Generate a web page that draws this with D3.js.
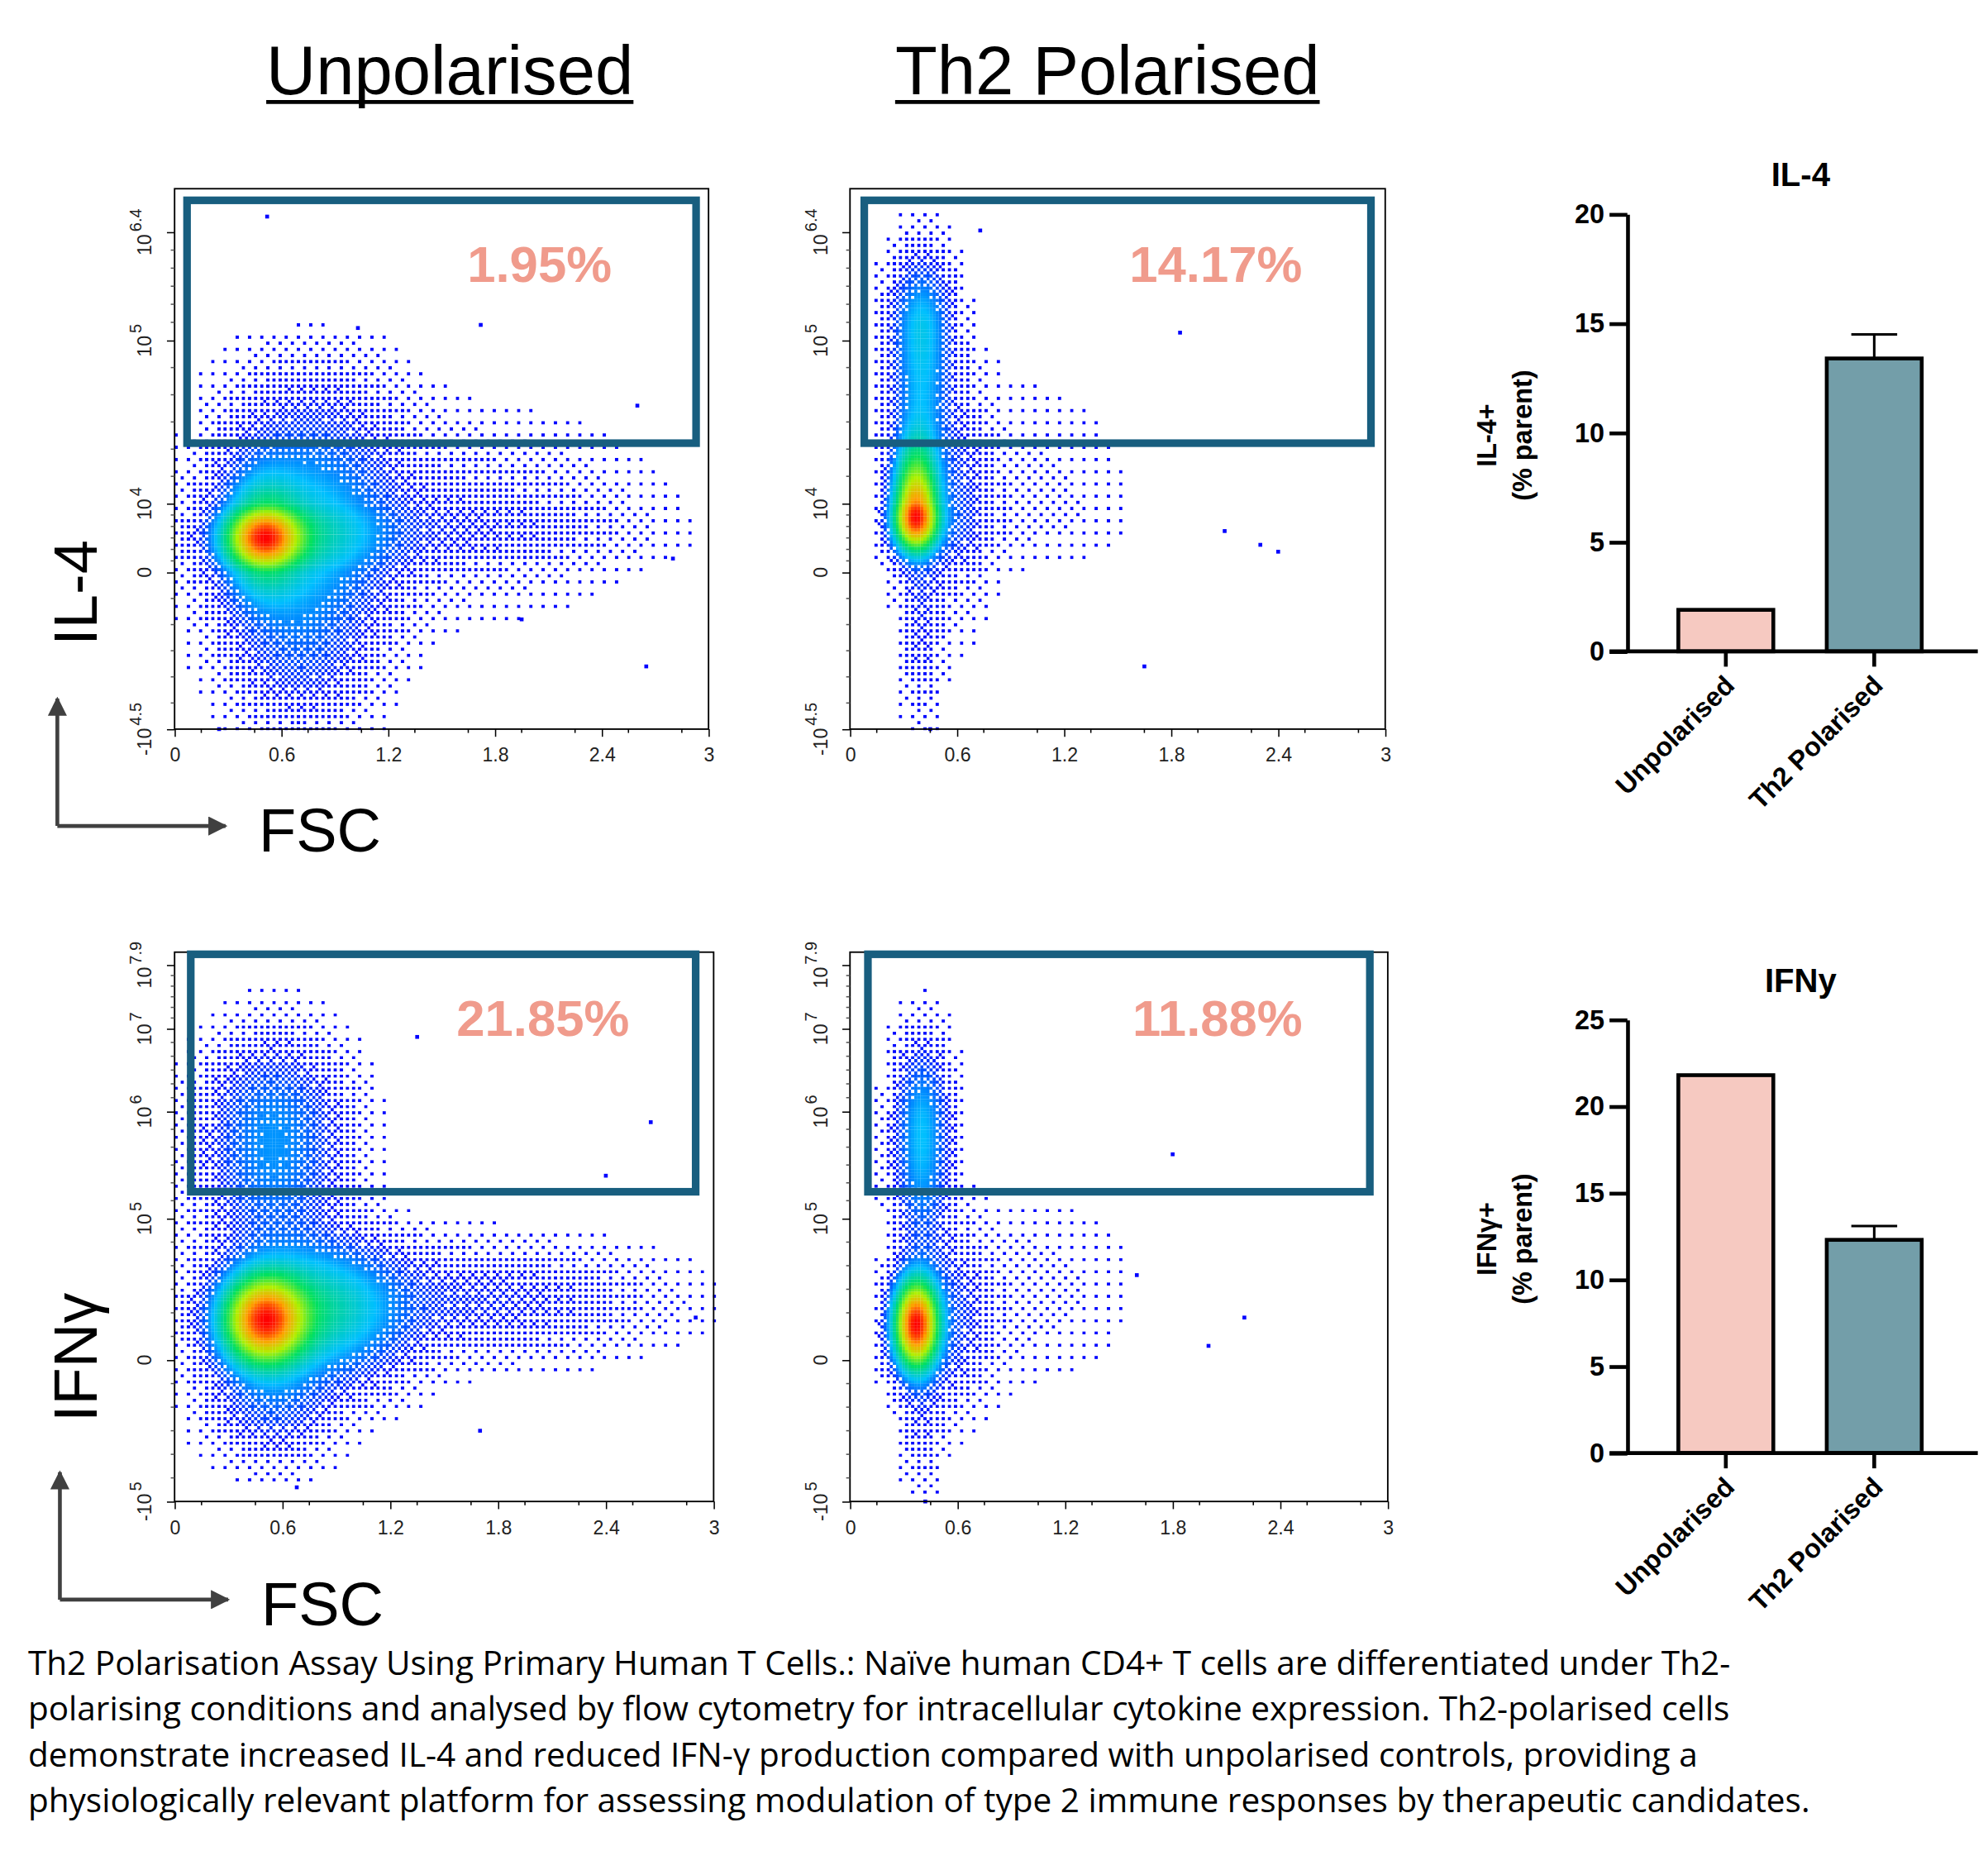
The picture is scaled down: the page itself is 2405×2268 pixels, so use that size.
<!DOCTYPE html>
<html><head><meta charset="utf-8">
<script src="https://cdn.jsdelivr.net/npm/d3@7"></script>
<style>body{margin:0;background:#fff}svg{display:block}</style>
</head><body>
<script>
// ---------- DATA ----------
const columnTitles = ["Unpolarised", "Th2 Polarised"];
const rowMarkers = ["IL-4", "IFNγ"];
const fscTicks = [0, 0.6, 1.2, 1.8, 2.4, 3];
// y axis units: -1 = negative decade, 0 = zero, k = k-th labelled decade
const il4TickUnits = [-1, 0, 1, 2, 3.4];
const il4TickLabels = [["-10","4.5"], ["0",""], ["10","4"], ["10","5"], ["10","6.4"]];
const ifnTickUnits = [-1, 0, 1, 2, 3, 3.9];
const ifnTickLabels = [["-10","5"], ["0",""], ["10","5"], ["10","6"], ["10","7"], ["10","7.9"]];
const gatePercents = ["1.95%", "14.17%", "21.85%", "11.88%"];
// gates: [fscMin, fscMax, unitMin, unitMax]
const gates = [[0.07, 2.93, 1.37, 3.81], [0.08, 2.92, 1.37, 3.81], [0.09, 2.9, 1.25, 4.05], [0.1, 2.9, 1.25, 4.05]];
// density components per plot: [fscCenter, unitCenter, fscSpread, unitSpread, weight]
const populations = [
  [[0.5,0.5,0.13,0.3,1],[0.75,0.55,0.28,0.5,0.25],[1.6,0.65,0.55,0.4,0.035],[0.7,-0.45,0.22,0.32,0.05],[0.8,1.5,0.3,0.3,0.012]],
  [[0.37,0.8,0.075,0.3,1],[0.4,2.1,0.1,0.55,0.16],[0.55,0.8,0.14,0.5,0.06],[0.4,-0.3,0.07,0.35,0.03],[1.0,0.9,0.35,0.5,0.006]],
  [[0.5,0.28,0.14,0.19,1],[0.8,0.35,0.28,0.28,0.25],[1.7,0.42,0.55,0.22,0.04],[0.55,1.7,0.22,0.65,0.12],[0.55,-0.25,0.2,0.25,0.07]],
  [[0.37,0.25,0.075,0.19,1],[0.4,1.75,0.09,0.6,0.14],[0.55,0.3,0.14,0.35,0.05],[0.4,-0.4,0.07,0.28,0.025],[1.0,0.5,0.35,0.4,0.006]]
];
// isolated events [fsc, unit]
const outliers = [
  [[0.52,3.6],[2.6,1.6],[1.03,2.16],[1.72,2.2],[2.8,0.2],[2.65,-0.6],[1.95,-0.3],[0.25,-1.0]],
  [[0.73,3.42],[1.85,2.1],[2.4,0.3],[2.1,0.6],[1.65,-0.6],[0.45,-1.0],[2.3,0.4]],
  [[1.35,2.9],[2.4,1.4],[2.65,1.9],[0.68,-0.9],[1.7,-0.5],[2.9,0.3]],
  [[1.8,1.6],[2.0,0.1],[1.6,0.6],[0.42,-1.0],[2.2,0.3]]
];
const barCategories = ["Unpolarised", "Th2 Polarised"];
const il4Values = [1.9, 13.4];
const il4Errors = [0, 1.1];
const ifnValues = [21.8, 12.3];
const ifnErrors = [0, 0.8];
const il4BarTicks = [0, 5, 10, 15, 20];
const ifnBarTicks = [0, 5, 10, 15, 20, 25];
const caption = [
 "Th2 Polarisation Assay Using Primary Human T Cells.: Naïve human CD4+ T cells are differentiated under Th2-",
 "polarising conditions and analysed by flow cytometry for intracellular cytokine expression. Th2-polarised cells",
 "demonstrate increased IL-4 and reduced IFN-γ production compared with unpolarised controls, providing a",
 "physiologically relevant platform for assessing modulation of type 2 immune responses by therapeutic candidates."
];

// ---------- LAYOUT ----------
const W = 1560, H = 1471;
const svg = d3.select("body").append("svg").attr("width", 2405).attr("height", 2268)
  .attr("viewBox", `0 0 ${W} ${H}`);
const jet = d3.scaleLinear().domain([0, 0.12, 0.3, 0.5, 0.68, 0.85, 1])
  .range(["#0000ff", "#0010ff", "#00c0ff", "#00e060", "#b0f000", "#ffa000", "#ff0000"]).clamp(true);
const bayer = [[0,8,2,10],[12,4,14,6],[3,11,1,9],[15,7,13,5]];

const panels = [
  {x0:137,x1:556,frameTop:148,units:il4TickUnits,labels:il4TickLabels,pos:[572,449,395,267,182]},
  {x0:667,x1:1087,frameTop:148,units:il4TickUnits,labels:il4TickLabels,pos:[572,449,395,267,182]},
  {x0:137,x1:560,frameTop:747,units:ifnTickUnits,labels:ifnTickLabels,pos:[1178,1067,956,872,807,757]},
  {x0:667,x1:1089,frameTop:747,units:ifnTickUnits,labels:ifnTickLabels,pos:[1178,1067,956,872,807,757]}
];

panels.forEach((p, i) => {
  const x = d3.scaleLinear().domain([0, 3]).range([p.x0, p.x1]);
  const y = d3.scaleLinear().domain(p.units).range(p.pos);
  const yBottom = p.pos[0], yTop = p.frameTop;
  const g = svg.append("g");
  const cw = 2.4, nx = Math.ceil((p.x1 - p.x0) / cw), ny = Math.ceil((yBottom - yTop) / cw);
  const comps = populations[i];
  const dens = [];
  let dmax = 0;
  for (let j = 0; j < ny; j++) for (let k = 0; k < nx; k++) {
    const fx = x.invert(p.x0 + (k + 0.5) * cw), uy = y.invert(yTop + (j + 0.5) * cw);
    let d = 0;
    comps.forEach(c => { const a = (fx - c[0]) / c[2], b = (uy - c[1]) / c[3]; d += c[4] * Math.exp(-0.5 * (a*a + b*b)); });
    dens.push(d); if (d > dmax) dmax = d;
  }
  const canvas = document.createElement("canvas");
  const sc = 3;
  canvas.width = Math.round(nx * cw * sc); canvas.height = Math.round(ny * cw * sc);
  const ctx = canvas.getContext("2d");
  const full = 0.1, thr = 0.0015;
  for (let j = 0; j < ny; j++) for (let k = 0; k < nx; k++) {
    const r = dens[j * nx + k] / dmax;
    if (r < thr) continue;
    if (r < full) {
      const keep = Math.pow((r - thr) / (full - thr), 0.7) * 16 * 0.8;
      if (bayer[j % 4][k % 4] >= keep) continue;
    }
    const t = Math.pow(r, 0.6);
    ctx.fillStyle = jet(t);
    ctx.fillRect(k * cw * sc, j * cw * sc, cw * sc, cw * sc);
  }
  g.append("image").attr("href", canvas.toDataURL()).attr("x", p.x0).attr("y", yTop)
    .attr("width", nx * cw).attr("height", ny * cw).attr("preserveAspectRatio", "none");
  g.append("g").selectAll("rect").data(outliers[i]).join("rect")
    .attr("x", d => x(d[0]) - 1.5).attr("y", d => y(d[1]) - 1.5).attr("width", 3).attr("height", 3).attr("fill", "#0000ff");
  g.append("rect").attr("x", p.x0).attr("y", yTop).attr("width", p.x1 - p.x0).attr("height", yBottom - yTop)
    .attr("fill", "none").attr("stroke", "#000").attr("stroke-width", 1.2);
  const xa = g.append("g").attr("transform", `translate(0,${yBottom})`)
    .call(d3.axisBottom(x).tickValues(fscTicks).tickFormat(d => d).tickSize(6).tickSizeOuter(0));
  xa.select(".domain").remove();
  xa.selectAll("text").attr("font-family", "Arial, Liberation Sans").attr("font-size", 15).attr("fill", "#222").attr("dy", "1.1em");
  g.append("g").selectAll("line").data(d3.range(0.15, 3, 0.3)).join("line")
    .attr("x1", d => x(d)).attr("x2", d => x(d)).attr("y1", yBottom).attr("y2", yBottom + 3).attr("stroke", "#000");
  const ya = g.append("g").attr("transform", `translate(${p.x0},0)`)
    .call(d3.axisLeft(y).tickValues(p.units).tickFormat("").tickSize(6).tickSizeOuter(0));
  ya.select(".domain").remove();
  p.units.forEach((u, k) => {
    const lab = p.labels[k];
    const t = g.append("text").attr("transform", `translate(${p.x0 - 18},${y(u)}) rotate(-90)`)
      .attr("text-anchor", "middle").attr("font-family", "Arial, Liberation Sans").attr("font-size", 15).attr("fill", "#222");
    t.append("tspan").text(lab[0]);
    if (lab[1]) t.append("tspan").attr("dy", -8).attr("dx", 2).attr("font-size", 13).text(lab[1]);
  });
  const minor = [];
  for (let k = 0; k < p.units.length - 1; k++) for (let m = 1; m < 6; m++) minor.push(p.units[k] + (p.units[k+1]-p.units[k]) * m / 6);
  g.append("g").selectAll("line").data(minor).join("line")
    .attr("x1", p.x0 - 3).attr("x2", p.x0).attr("y1", d => y(d)).attr("y2", d => y(d)).attr("stroke", "#555");
  const gt = gates[i];
  g.append("rect").attr("x", x(gt[0])).attr("y", y(gt[3])).attr("width", x(gt[1]) - x(gt[0]))
    .attr("height", y(gt[2]) - y(gt[3])).attr("fill", "none").attr("stroke", "#185e7f").attr("stroke-width", 6);
  g.append("text").attr("x", x(2.05)).attr("y", y(gt[3]) + 64).attr("text-anchor", "middle")
    .attr("font-family", "Arial, Liberation Sans").attr("font-weight", "bold").attr("font-size", 40)
    .attr("fill", "#f09b8c").text(gatePercents[i]);
});

[353, 869].forEach((cx, i) => {
  const t = svg.append("text").attr("x", cx).attr("y", 74).attr("text-anchor", "middle")
    .attr("font-family", "Arial, Liberation Sans").attr("font-size", 54).attr("fill", "#000").text(columnTitles[i]);
  const bb = t.node().getBBox();
  svg.append("line").attr("x1", bb.x).attr("x2", bb.x + bb.width).attr("y1", 80).attr("y2", 80)
    .attr("stroke", "#000").attr("stroke-width", 3);
});

svg.append("defs").append("marker").attr("id", "ah").attr("viewBox", "0 0 10 10").attr("refX", 9).attr("refY", 5)
  .attr("markerWidth", 5).attr("markerHeight", 5).attr("orient", "auto")
  .append("path").attr("d", "M0,0L10,5L0,10Z").attr("fill", "#404040");
[[465, 648, 45, 668], [1065, 1255, 47, 1275]].forEach((r, i) => {
  svg.append("text").attr("transform", `translate(76,${r[0]}) rotate(-90)`).attr("text-anchor", "middle")
    .attr("font-family", "Arial, Liberation Sans").attr("font-size", 48).text(rowMarkers[i]);
  svg.append("line").attr("x1", r[2]).attr("y1", r[1]).attr("x2", r[2]).attr("y2", r[1] - 100)
    .attr("stroke", "#404040").attr("stroke-width", 3).attr("marker-end", "url(#ah)");
  svg.append("line").attr("x1", r[2]).attr("y1", r[1]).attr("x2", r[2] + 132).attr("y2", r[1])
    .attr("stroke", "#404040").attr("stroke-width", 3).attr("marker-end", "url(#ah)");
  svg.append("text").attr("x", r[2] + 158).attr("y", r[3]).attr("font-family", "Arial, Liberation Sans")
    .attr("font-size", 48).text("FSC");
});

function barChart(cfg) {
  const y = d3.scaleLinear().domain([0, cfg.max]).range([cfg.y0, cfg.y1]);
  const x = d3.scaleBand().domain(barCategories).range([1317, 1508]).paddingInner(0.36).paddingOuter(0);
  const g = svg.append("g");
  const font = "Arial, Liberation Sans";
  g.append("text").attr("x", 1413).attr("y", cfg.y1 - 22).attr("text-anchor", "middle")
    .attr("font-family", font).attr("font-weight", "bold").attr("font-size", 26).text(cfg.title);
  g.selectAll(".bar").data(cfg.values).join("rect")
    .attr("x", (d, i) => x(barCategories[i])).attr("y", d => y(d))
    .attr("width", x.bandwidth()).attr("height", d => y(0) - y(d))
    .attr("fill", (d, i) => ["#f6c9c1", "#739ea9"][i]).attr("stroke", "#000").attr("stroke-width", 3);
  cfg.values.forEach((v, i) => {
    if (!cfg.errors[i]) return;
    const cx = x(barCategories[i]) + x.bandwidth() / 2;
    g.append("line").attr("x1", cx).attr("x2", cx).attr("y1", y(v)).attr("y2", y(v + cfg.errors[i])).attr("stroke", "#000").attr("stroke-width", 2);
    g.append("line").attr("x1", cx - 18).attr("x2", cx + 18).attr("y1", y(v + cfg.errors[i])).attr("y2", y(v + cfg.errors[i])).attr("stroke", "#000").attr("stroke-width", 2);
  });
  const ya = g.append("g").attr("transform", "translate(1277,0)")
    .call(d3.axisLeft(y).tickValues(cfg.ticks).tickSize(14).tickSizeOuter(0).tickPadding(4));
  ya.select(".domain").attr("stroke-width", 3);
  ya.selectAll(".tick line").attr("stroke-width", 3);
  ya.selectAll("text").attr("font-family", font).attr("font-weight", "bold").attr("font-size", 21).attr("fill", "#000");
  g.append("line").attr("x1", 1263).attr("x2", 1552).attr("y1", y(0)).attr("y2", y(0)).attr("stroke", "#000").attr("stroke-width", 3);
  barCategories.forEach(c => {
    const cx = x(c) + x.bandwidth() / 2;
    g.append("line").attr("x1", cx).attr("x2", cx).attr("y1", y(0)).attr("y2", y(0) + 12).attr("stroke", "#000").attr("stroke-width", 3);
    g.append("text").attr("transform", `translate(${cx + 8},${y(0) + 28}) rotate(-45)`).attr("text-anchor", "end")
      .attr("font-family", font).attr("font-weight", "bold").attr("font-size", 21).text(c);
  });
  const t = g.append("text").attr("transform", `translate(1180,${(cfg.y0 + cfg.y1) / 2 + 2}) rotate(-90)`)
    .attr("text-anchor", "middle").attr("font-family", font).attr("font-weight", "bold").attr("font-size", 21);
  t.append("tspan").attr("x", 0).attr("dy", -6).text(cfg.label);
  t.append("tspan").attr("x", 0).attr("dy", 28).text("(% parent)");
}
barChart({title: "IL-4", label: "IL-4+", values: il4Values, errors: il4Errors, ticks: il4BarTicks, max: 20, y0: 511, y1: 168});
barChart({title: "IFNy", label: "IFNγ+", values: ifnValues, errors: ifnErrors, ticks: ifnBarTicks, max: 25, y0: 1140, y1: 800});

svg.append("g").selectAll("text").data(caption).join("text")
  .attr("x", 22).attr("y", (d, i) => 1314 + i * 36)
  .attr("font-family", "Open Sans, Noto Sans, sans-serif").attr("font-size", 26.3).attr("fill", "#000").text(d => d);
</script>
</body></html>
